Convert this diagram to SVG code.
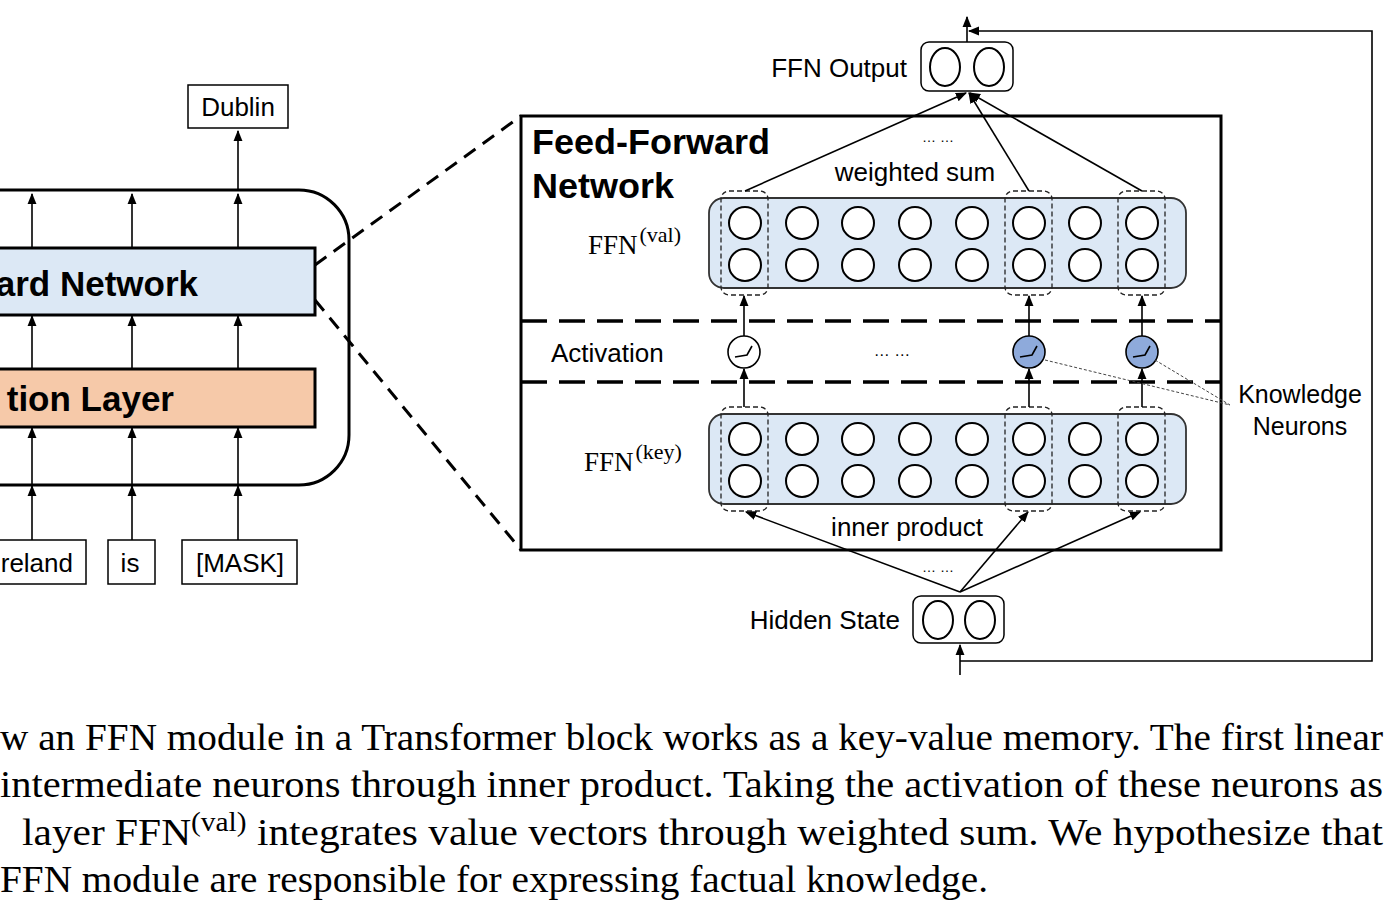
<svg xmlns="http://www.w3.org/2000/svg" width="1399" height="908" viewBox="0 0 1399 908">
<defs>
<marker id="ah" viewBox="0 0 10 10" refX="9" refY="5" markerWidth="7" markerHeight="7" orient="auto-start-reverse"><path d="M0,1 L10,5 L0,9 z" fill="#000"/></marker>
<style>
.t{font-family:"Liberation Sans",Arial,sans-serif;fill:#000}
.s{font-family:"Liberation Serif","Times New Roman",serif;fill:#000}
.n{fill:#fff;stroke:#000;stroke-width:2}
.c{stroke:#000;stroke-width:1.6;fill:none}
.cd{fill:none;stroke:#222;stroke-width:1.3;stroke-dasharray:5 3}
.sep{stroke:#000;stroke-width:3.5;stroke-dasharray:26 12}
</style>
</defs>
<rect width="1399" height="908" fill="#fff"/>

<g id="left-block">
<rect x="-60" y="190" width="409" height="295" rx="50" fill="none" stroke="#000" stroke-width="3"/>
<rect x="-10" y="248" width="325" height="67" fill="#dce8f5" stroke="#000" stroke-width="3"/>
<text class="t" x="198" y="296" text-anchor="end" font-size="35" font-weight="bold">ard Network</text>
<rect x="-10" y="369" width="325" height="58" fill="#f6c9a9" stroke="#000" stroke-width="3"/>
<text class="t" x="174" y="411" text-anchor="end" font-size="35" font-weight="bold">tion Layer</text>
</g>
<g id="dublin"><rect x="188" y="85" width="100" height="43" fill="#fff" stroke="#000" stroke-width="1.5"/><text class="t" x="238" y="116" text-anchor="middle" font-size="26">Dublin</text></g>
<g id="ireland"><rect x="-20" y="540" width="106" height="44" fill="#fff" stroke="#000" stroke-width="1.5"/><text class="t" x="73" y="572" text-anchor="end" font-size="26">reland</text></g>
<g id="is"><rect x="108" y="540" width="47" height="44" fill="#fff" stroke="#000" stroke-width="1.5"/><text class="t" x="130" y="572" text-anchor="middle" font-size="26">is</text></g>
<g id="mask"><rect x="182" y="540" width="115" height="44" fill="#fff" stroke="#000" stroke-width="1.5"/><text class="t" x="240" y="572" text-anchor="middle" font-size="26">[MASK]</text></g>

<g id="ffn-box">
<rect x="521" y="116" width="700" height="434" fill="none" stroke="#000" stroke-width="3"/>
<text class="t" x="532" y="154" font-size="35" font-weight="bold" textLength="238" lengthAdjust="spacingAndGlyphs">Feed-Forward</text>
<text class="t" x="532" y="198" font-size="35" font-weight="bold" textLength="142" lengthAdjust="spacingAndGlyphs">Network</text>
<line class="sep" x1="521" y1="321" x2="1221" y2="321"/>
<line class="sep" x1="521" y1="382" x2="1221" y2="382"/>
<text class="t" x="551" y="362" font-size="26">Activation</text>
<text class="t" x="892" y="356" text-anchor="middle" font-size="16">… …</text>
<text class="s" x="588" y="254" font-size="27">FFN<tspan font-size="22" dy="-12" dx="2">(val)</tspan></text>
<text class="s" x="584" y="471" font-size="27">FFN<tspan font-size="22" dy="-12" dx="2">(key)</tspan></text>
<text class="t" x="915" y="181" text-anchor="middle" font-size="26">weighted sum</text>
<text class="t" x="907" y="536" text-anchor="middle" font-size="26">inner product</text>
<text class="t" x="938" y="142" text-anchor="middle" font-size="14">… …</text>
</g>

<g id="ffn-val">
<rect x="709" y="198" width="477" height="90" rx="15" fill="#dce8f5" stroke="#333" stroke-width="1.8"/>
<g class="n">
<circle cx="745" cy="223" r="16"/><circle cx="802" cy="223" r="16"/><circle cx="858" cy="223" r="16"/><circle cx="915" cy="223" r="16"/><circle cx="972" cy="223" r="16"/><circle cx="1029" cy="223" r="16"/><circle cx="1085" cy="223" r="16"/><circle cx="1142" cy="223" r="16"/>
<circle cx="745" cy="265" r="16"/><circle cx="802" cy="265" r="16"/><circle cx="858" cy="265" r="16"/><circle cx="915" cy="265" r="16"/><circle cx="972" cy="265" r="16"/><circle cx="1029" cy="265" r="16"/><circle cx="1085" cy="265" r="16"/><circle cx="1142" cy="265" r="16"/>
</g>
<rect class="cd" x="721" y="191" width="47" height="104" rx="8"/>
<rect class="cd" x="1005" y="191" width="47" height="104" rx="8"/>
<rect class="cd" x="1118" y="191" width="47" height="104" rx="8"/>
</g>

<g id="ffn-key">
<rect x="709" y="414" width="477" height="90" rx="15" fill="#dce8f5" stroke="#333" stroke-width="1.8"/>
<g class="n">
<circle cx="745" cy="439" r="16"/><circle cx="802" cy="439" r="16"/><circle cx="858" cy="439" r="16"/><circle cx="915" cy="439" r="16"/><circle cx="972" cy="439" r="16"/><circle cx="1029" cy="439" r="16"/><circle cx="1085" cy="439" r="16"/><circle cx="1142" cy="439" r="16"/>
<circle cx="745" cy="481" r="16"/><circle cx="802" cy="481" r="16"/><circle cx="858" cy="481" r="16"/><circle cx="915" cy="481" r="16"/><circle cx="972" cy="481" r="16"/><circle cx="1029" cy="481" r="16"/><circle cx="1085" cy="481" r="16"/><circle cx="1142" cy="481" r="16"/>
</g>
<rect class="cd" x="721" y="407" width="47" height="104" rx="8"/>
<rect class="cd" x="1005" y="407" width="47" height="104" rx="8"/>
<rect class="cd" x="1118" y="407" width="47" height="104" rx="8"/>
</g>

<g id="activations">
<circle cx="744" cy="352" r="16" fill="#fff" stroke="#000" stroke-width="1.6"/>
<path d="M735,357 L747,355 L752,346" fill="none" stroke="#000" stroke-width="1.6"/>
<circle cx="1029" cy="352" r="16" fill="#8eaadb" stroke="#000" stroke-width="1.6"/>
<path d="M1020,357 L1032,355 L1037,346" fill="none" stroke="#000" stroke-width="1.6"/>
<circle cx="1142" cy="352" r="16" fill="#8eaadb" stroke="#000" stroke-width="1.6"/>
<path d="M1133,357 L1145,355 L1150,346" fill="none" stroke="#000" stroke-width="1.6"/>
</g>

<g id="knowledge-neurons">
<text class="t" x="1300" y="403" text-anchor="middle" font-size="25">Knowledge</text>
<text class="t" x="1300" y="435" text-anchor="middle" font-size="25">Neurons</text>
</g>

<g id="ffn-output">
<text class="t" x="907" y="77" text-anchor="end" font-size="26">FFN Output</text>
<rect x="921" y="42" width="92" height="49" rx="8" fill="#fff" stroke="#000" stroke-width="1.5"/>
<ellipse class="n" cx="945" cy="67" rx="15" ry="19" stroke-width="1.5"/><ellipse class="n" cx="989" cy="67" rx="15" ry="19" stroke-width="1.5"/>
</g>
<g id="hidden-state">
<text class="t" x="900" y="629" text-anchor="end" font-size="26">Hidden State</text>
<rect x="913" y="596" width="91" height="47" rx="8" fill="#fff" stroke="#000" stroke-width="1.5"/>
<ellipse class="n" cx="938" cy="620" rx="15" ry="19" stroke-width="1.5"/><ellipse class="n" cx="980" cy="620" rx="15" ry="19" stroke-width="1.5"/>
<text class="t" x="938" y="572" text-anchor="middle" font-size="14">… …</text>
</g>

<g id="connectors">
<line x1="315" y1="265" x2="521" y2="116" stroke="#000" stroke-width="3" stroke-dasharray="14 9"/>
<line x1="315" y1="300" x2="521" y2="550" stroke="#000" stroke-width="3" stroke-dasharray="14 9"/>
<g class="c" marker-end="url(#ah)">
<line x1="32" y1="485" x2="32" y2="428"/><line x1="132" y1="485" x2="132" y2="428"/><line x1="238" y1="485" x2="238" y2="428"/>
<line x1="32" y1="369" x2="32" y2="316"/><line x1="132" y1="369" x2="132" y2="316"/><line x1="238" y1="369" x2="238" y2="316"/>
<line x1="32" y1="248" x2="32" y2="194"/><line x1="132" y1="248" x2="132" y2="194"/><line x1="238" y1="248" x2="238" y2="194"/>
<line x1="32" y1="540" x2="32" y2="486"/><line x1="132" y1="540" x2="132" y2="486"/><line x1="238" y1="540" x2="238" y2="486"/>
<line x1="238" y1="190" x2="238" y2="131"/>
<line x1="744" y1="407" x2="744" y2="369"/><line x1="1029" y1="407" x2="1029" y2="369"/><line x1="1142" y1="407" x2="1142" y2="369"/>
<line x1="744" y1="336" x2="744" y2="296"/><line x1="1029" y1="336" x2="1029" y2="296"/><line x1="1142" y1="336" x2="1142" y2="296"/>
<line x1="960" y1="592" x2="746" y2="512"/><line x1="960" y1="592" x2="1028" y2="512"/><line x1="960" y1="592" x2="1140" y2="512"/>
<line x1="745" y1="191" x2="966" y2="93"/><line x1="1029" y1="191" x2="969" y2="93"/><line x1="1142" y1="191" x2="970" y2="93"/>
<line x1="960" y1="675" x2="960" y2="645"/>
<line x1="967" y1="42" x2="967" y2="17"/>
<polyline points="960,661 1372,661 1372,31 969,31"/>
</g>
<line x1="1045" y1="360" x2="1230" y2="405" stroke="#444" stroke-width="1" stroke-dasharray="3 2"/>
<line x1="1155" y1="360" x2="1230" y2="405" stroke="#444" stroke-width="1" stroke-dasharray="3 2"/>
</g>

<g id="caption" class="s" font-size="38">
<text x="0" y="750" textLength="1383" lengthAdjust="spacingAndGlyphs">w an FFN module in a Transformer block works as a key-value memory. The first linear</text>
<text x="0" y="797" textLength="1383" lengthAdjust="spacingAndGlyphs">intermediate neurons through inner product.  Taking the activation of these neurons as</text>
<text x="22" y="845" textLength="1361" lengthAdjust="spacingAndGlyphs">layer FFN<tspan font-size="27" dy="-14">(val)</tspan><tspan dy="14"> integrates value vectors through weighted sum.  We hypothesize that</tspan></text>
<text x="0" y="892" textLength="988" lengthAdjust="spacingAndGlyphs">FFN module are responsible for expressing factual knowledge.</text>
</g>
</svg>
